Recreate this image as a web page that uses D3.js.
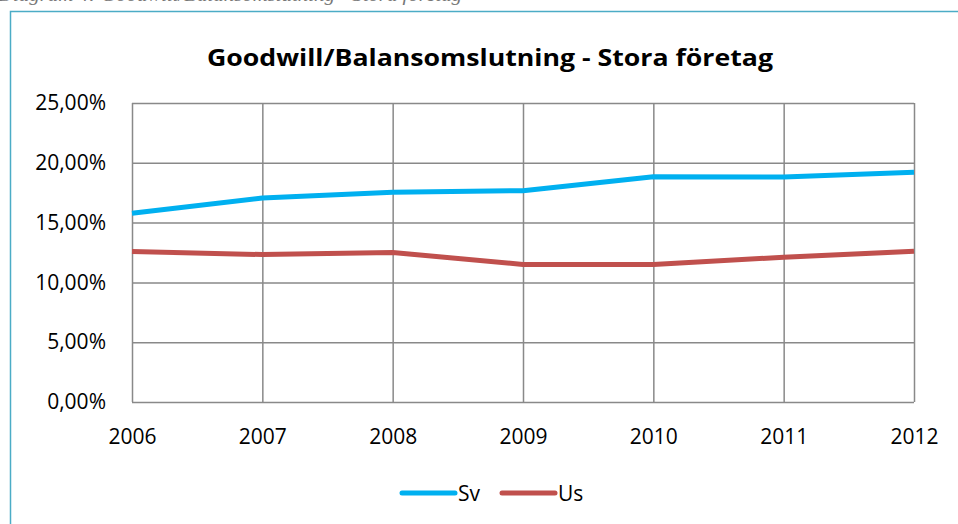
<!DOCTYPE html>
<html>
<head>
<meta charset="utf-8">
<script src="https://cdnjs.cloudflare.com/ajax/libs/d3/7.8.5/d3.min.js"></script>
<style>
	body { margin: 0; background: #fff; }
	svg { display: block; }
</style>
</head>
<body>
<div id="chart"></div>
<script>
const years = ['2006', '2007', '2008', '2009', '2010', '2011', '2012']
const sv = [15.78, 17.06, 17.53, 17.67, 18.83, 18.82, 19.2]
const us = [12.58, 12.33, 12.5, 11.5, 11.5, 12.1, 12.6]
const yTicks = [0, 5, 10, 15, 20, 25]
const seriesNames = ['Sv', 'Us']
const seriesColors = ['#00b0f0', '#c0504d']

const width = 958
const height = 524
const margin = { top: 103, left: 132, right: 44, bottom: 122 }
const chartWidth = width - margin.left - margin.right
const chartHeight = height - margin.top - margin.bottom
const font = "'Open Sans', 'Noto Sans', sans-serif"

const svg = d3.select('#chart')
	.append('svg')
	.attr('width', width)
	.attr('height', height)

// cropped caption above the frame (only the bottom of it is in view)
svg.append('text')
	.attr('x', -2)
	.attr('y', 1)
	.attr('font-family', "'Liberation Serif', serif")
	.attr('font-style', 'italic')
	.attr('font-size', 18)
	.attr('fill', '#777')
	.attr('textLength', 464)
	.attr('lengthAdjust', 'spacingAndGlyphs')
	.text('Diagram 4: Goodwill/Balansomslutning - Stora företag')

// frame
svg.append('path')
	.attr('d', `M10.5,${height} V11.5 H${width}`)
	.attr('fill', 'none')
	.attr('stroke', '#4bacc6')
	.attr('stroke-width', 1.5)

// title
svg.append('text')
	.attr('x', 490)
	.attr('y', 66)
	.attr('text-anchor', 'middle')
	.attr('font-family', font)
	.attr('font-weight', 'bold')
	.attr('font-size', 23)
	.attr('textLength', 566)
	.attr('lengthAdjust', 'spacingAndGlyphs')
	.text('Goodwill/Balansomslutning - Stora företag')

const x = d3.scalePoint()
	.domain(years)
	.range([0, chartWidth])

const y = d3.scaleLinear()
	.domain([0, 25])
	.range([chartHeight, 0])

const chart = svg.append('g')
	.attr('transform', `translate(${margin.left},${margin.top})`)

// horizontal grid + y labels
const yAxis = d3.axisLeft(y)
	.tickValues(yTicks)
	.tickSize(-chartWidth)
	.tickPadding(26)
	.tickFormat(d => d3.format('.2f')(d).replace('.', ',') + '%')

chart.append('g')
	.call(yAxis)
	.call(g => g.select('.domain').remove())
	.call(g => g.selectAll('line').attr('stroke', '#898989').attr('stroke-width', 1.5))
	.call(g => g.selectAll('text')
		.attr('font-family', font)
		.attr('font-size', 21)
		.attr('fill', '#000'))

// vertical grid + x labels
const xAxis = d3.axisBottom(x)
	.tickSize(-chartHeight)
	.tickPadding(27)

chart.append('g')
	.attr('transform', `translate(0,${chartHeight})`)
	.call(xAxis)
	.call(g => g.select('.domain').remove())
	.call(g => g.selectAll('line').attr('stroke', '#898989').attr('stroke-width', 1.5))
	.call(g => g.selectAll('text')
		.attr('font-family', font)
		.attr('font-size', 21)
		.attr('fill', '#000'))

// lines
const line = d3.line()
	.x((d, i) => x(years[i]))
	.y(d => y(d))

const series = [sv, us]

chart.selectAll('.series')
	.data(series)
	.join('path')
	.attr('class', 'series')
	.attr('d', line)
	.attr('fill', 'none')
	.attr('stroke', (d, i) => seriesColors[i])
	.attr('stroke-width', 5)
	.attr('stroke-linejoin', 'round')

// legend
const legend = svg.append('g')
	.attr('transform', 'translate(400,493)')

const item = legend.selectAll('.item')
	.data(seriesNames)
	.join('g')
	.attr('class', 'item')
	.attr('transform', (d, i) => `translate(${i * 100},0)`)

item.append('line')
	.attr('x1', 2)
	.attr('x2', 55)
	.attr('stroke', (d, i) => seriesColors[i])
	.attr('stroke-width', 5)
	.attr('stroke-linecap', 'round')

item.append('text')
	.attr('x', 58)
	.attr('y', 8)
	.attr('font-family', font)
	.attr('font-size', 21)
	.text(d => d)
</script>
</body>
</html>
